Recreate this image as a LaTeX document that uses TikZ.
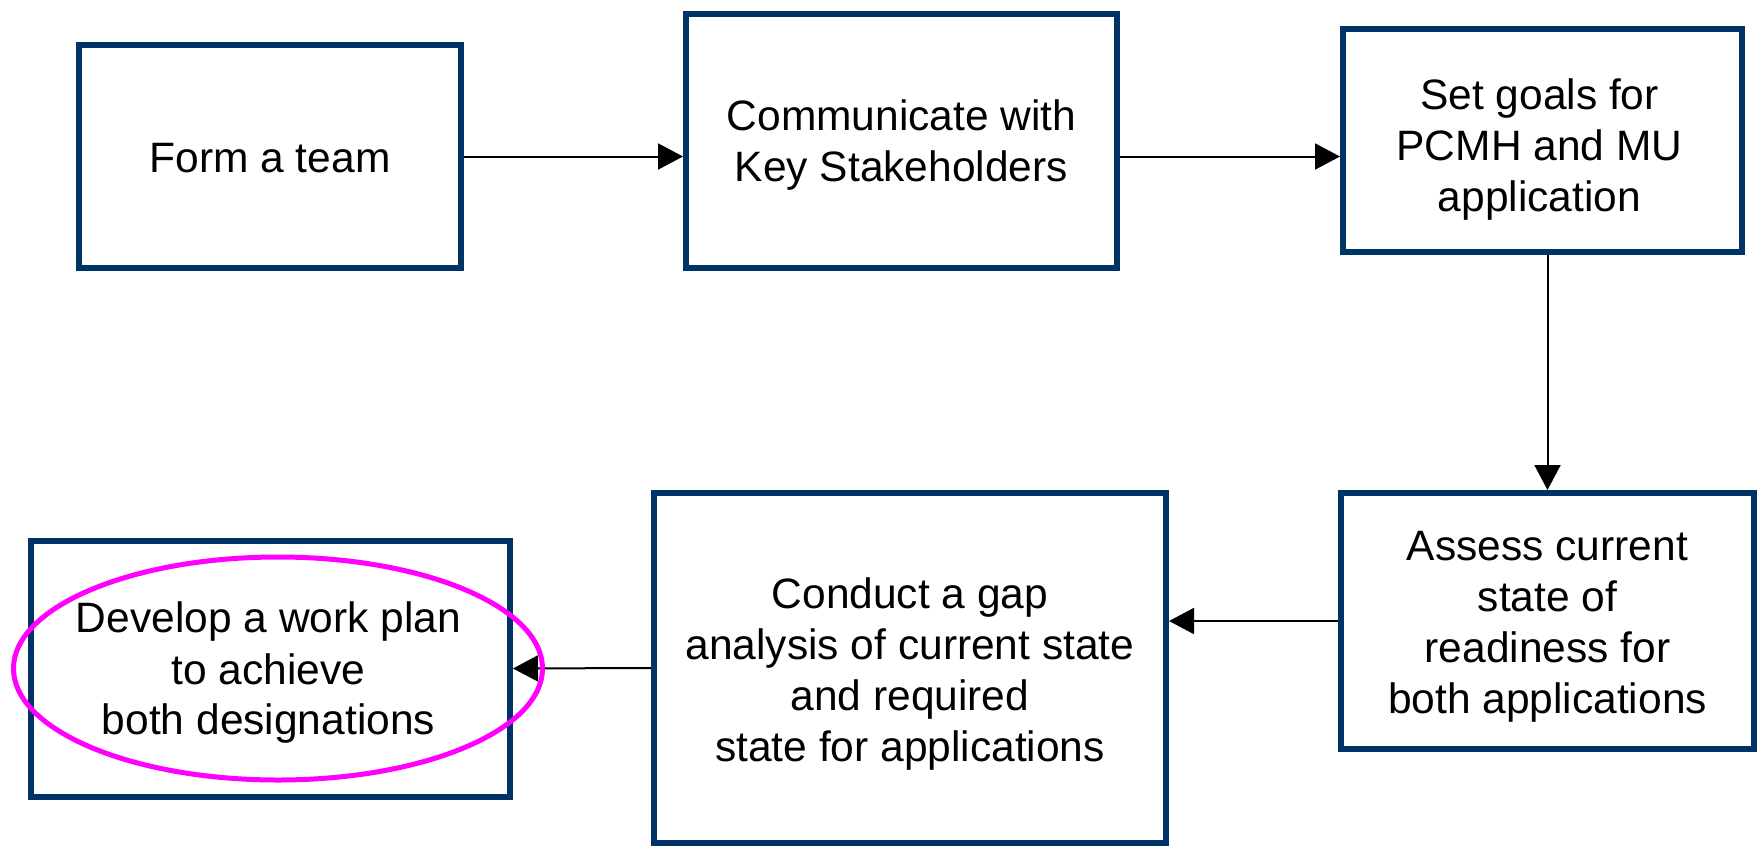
\documentclass[tikz,border=0pt]{standalone}
\usepackage{fontspec}
\setmainfont{Liberation Sans}
\usetikzlibrary{arrows.meta,calc}
\definecolor{boxnavy}{RGB}{0,51,102}
\definecolor{ringpink}{RGB}{255,0,255}
\begin{document}
\begin{tikzpicture}[x=1pt,y=-1pt,
  stepbox/.style={draw=boxnavy, line width=6pt, fill=white, inner sep=0pt},
  steptext/.style={align=center, inner sep=0pt, font=\fontsize{42.5}{51}\selectfont},
  flow/.style={draw=black, line width=2pt, -{Triangle[length=25pt,width=26pt]}}]
\useasboundingbox[fill=white] (0,0) rectangle (1758,846);

% process step frames
\node[stepbox, minimum width=382pt, minimum height=223pt] (b1) at (270,156.5) {};
\node[stepbox, minimum width=431pt, minimum height=254pt] (b2) at (901.5,141) {};
\node[stepbox, minimum width=399pt, minimum height=223pt] (b3) at (1542.5,140.5) {};
\node[stepbox, minimum width=413pt, minimum height=256pt] (b4) at (1547.5,621) {};
\node[stepbox, minimum width=512pt, minimum height=350pt] (b5) at (910,668) {};
\node[stepbox, minimum width=479pt, minimum height=256pt] (b6) at (270.5,668.5) {};

% step texts
\node[steptext] (t1) at ($(b1.center)+(0,2)$) {Form a team};
\node[steptext] (t2) at ($(b2.center)+(0,4.5)$) {Communicate with\\Key Stakeholders};
\node[steptext] (t3) at ($(b3.center)+(-3,9)$) {Set goals for\\PCMH and MU\\application};
\node[steptext] (t4) at ($(b4.center)+(0,6)$) {Assess current\\state of\\readiness for\\both applications};
\node[steptext] (t5) at ($(b5.center)+(0,6)$) {Conduct a gap\\analysis of current state\\and required\\state for applications};
\node[steptext] (t6) at ($(b6.center)+(-2,4.5)$) {Develop a work plan\\to achieve\\both designations};

% connectors
\draw[flow] (b1.east) -- (b1.east -| b2.west);
\draw[flow] (b2.east |- b1.east) -- (b3.west |- b1.east);
\draw[flow] (b3.south -| b4.north) -- (b4.north);
\draw[flow] (b4.west) -- (b4.west -| b5.east);
\draw[flow] (b5.west) -- (b6.east);

% highlight ring round the final step
\draw[ringpink, line width=5pt] (278,668.5) ellipse [x radius=264.5pt, y radius=111.5pt];
\end{tikzpicture}
\end{document}
